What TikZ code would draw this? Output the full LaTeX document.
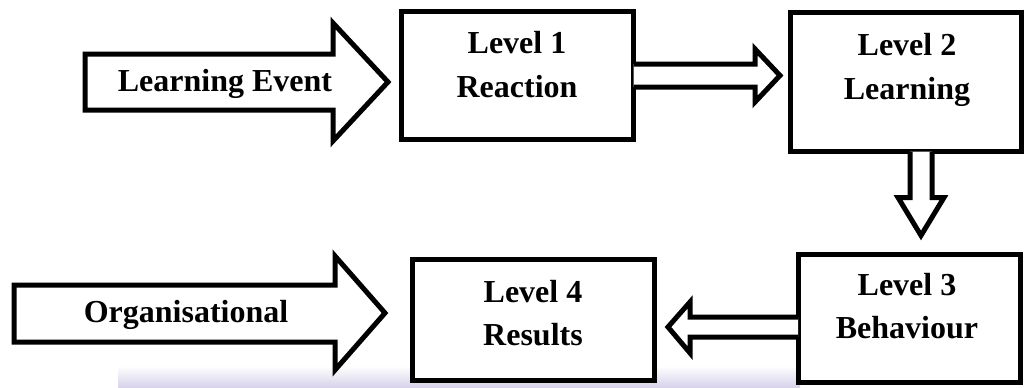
\documentclass[tikz,border=0pt]{standalone}
\usepackage{fontspec}
\setmainfont{Liberation Serif}
\usetikzlibrary{calc}
\definecolor{bandc}{RGB}{214,208,234}
\tikzset{
  levelbox/.style={draw, fill=white, line width=5pt, rectangle, outer sep=0pt, inner sep=0pt},
  blockarrow/.style={draw, fill=white, line width=5pt, line join=miter},
  lbl/.style={font=\fontsize{32}{38}\selectfont\bfseries, anchor=base, inner sep=0pt}
}
\begin{document}
\begin{tikzpicture}[x=1pt, y=-1pt]
\useasboundingbox (0,0) rectangle (1025,388);
% faint band at the bottom
\shade[top color=white, bottom color=bandc] (118,366) rectangle (800,388);
% boxes
\node[levelbox, minimum width=232pt, minimum height=128pt] (b1) at (517.5,75.5) {};
\node[levelbox, minimum width=231pt, minimum height=139pt] (b2) at (906,82) {};
\node[levelbox, minimum width=222.5pt, minimum height=128pt] (b3) at (909.25,318.5) {};
\node[levelbox, minimum width=242.5pt, minimum height=121pt] (b4) at (533.25,320) {};
% box texts
\node[lbl] (t1a) at (517,53) {Level 1};
\node[lbl] (t1b) at (517,97) {Reaction};
\node[lbl] (t2a) at (907,55) {Level 2};
\node[lbl] (t2b) at (907,99) {Learning};
\node[lbl] (t3a) at (907,295) {Level 3};
\node[lbl] (t3b) at (907,338) {Behaviour};
\node[lbl] (t4a) at (533,302) {Level 4};
\node[lbl] (t4b) at (533,345) {Results};
% input arrows
\draw[blockarrow] (85,54) -- (333,54) -- (333,23) -- (388,82) -- (333,141) -- (333,110) -- (85,110) -- cycle;
\node[lbl] (le) at (225,91) {Learning Event};
\draw[blockarrow] (14,285) -- (335,285) -- (335,256) -- (385,313) -- (335,370) -- (335,342) -- (14,342) -- cycle;
\node[lbl] (org) at (186,322) {Organisational};
% connectors between levels
\coordinate (a12) at (b1.east);
\draw[blockarrow] ($(a12)+(0,-11.5)$) -- ++(121.5,0) -- ++(0,-15) -- ($(a12)+(146.5,0)$) -- ($(a12)+(121.5,26.5)$) -- ++(0,-15) -- ($(a12)+(0,11.5)$);
\coordinate (a23) at ($(b2.south)+(15,0)$);
\draw[blockarrow] ($(a23)+(-11,0)$) -- ++(0,46) -- ++(-12,0) -- ($(a23)+(0,84)$) -- ($(a23)+(23,46)$) -- ++(-12,0) -- ($(a23)+(11,0)$);
\coordinate (a34) at ($(b3.west)+(0,8.5)$);
\draw[blockarrow] ($(a34)+(0,-10)$) -- ++(-108,0) -- ++(0,-15) -- ($(a34)+(-130,0)$) -- ($(a34)+(-108,26)$) -- ++(0,-16) -- ($(a34)+(0,10)$);
\end{tikzpicture}
\end{document}
